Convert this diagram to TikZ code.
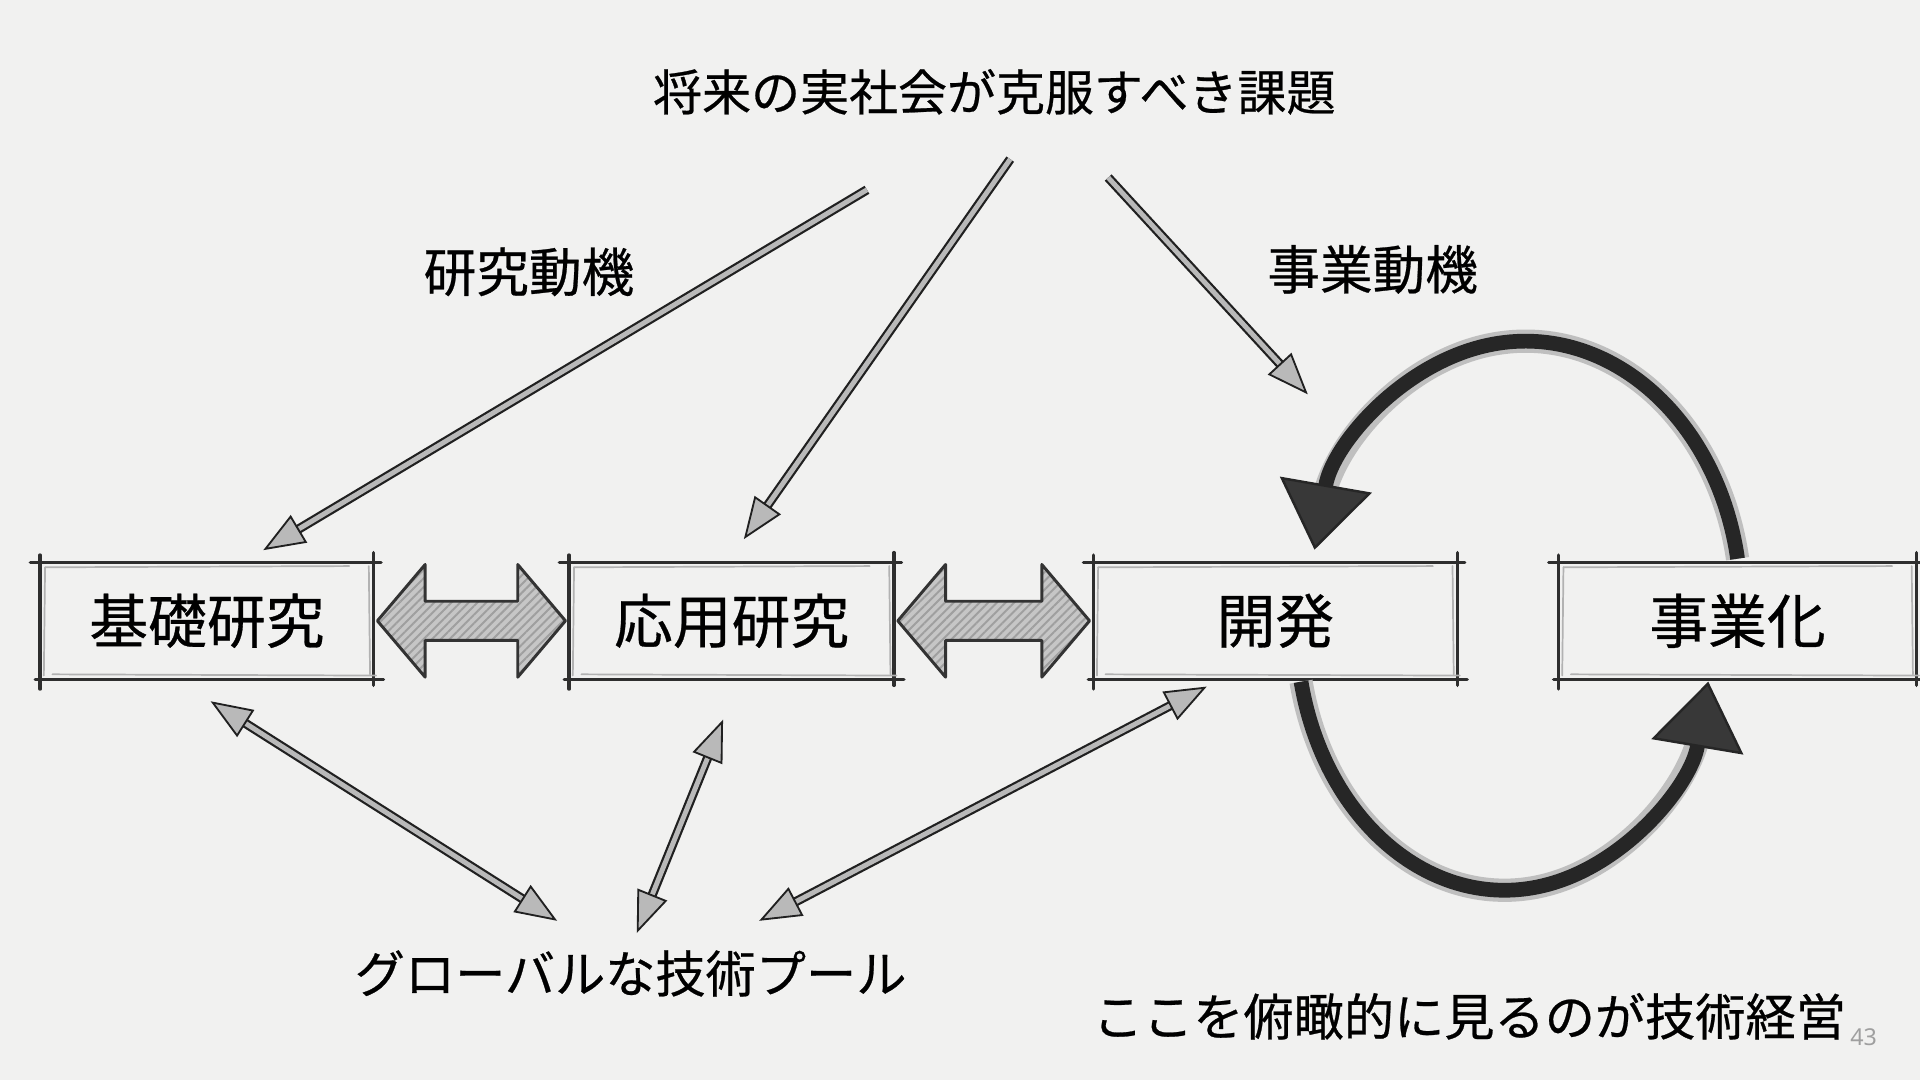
\documentclass[tikz,border=0pt]{standalone}
\usepackage{fontspec}
\newfontfamily\jp{Noto Sans CJK JP}[FakeBold=0.5]
\newfontfamily\numfont{Noto Sans}
\usetikzlibrary{arrows.meta,calc,patterns.meta}
\definecolor{bg}{RGB}{241,241,240}
\tikzset{
  skl/.style={draw=black!82,line width=2.8pt,line cap=round},
  skl2/.style={draw=gray!60,line width=1.4pt,line cap=round},
  boxnode/.style={inner sep=0pt,minimum height=95pt,font=\jp\fontsize{48}{50}\selectfont},
  lbl/.style={inner sep=0pt,font=\jp\fontsize{41}{44}\selectfont},
  blk/.style={draw=black!80,line width=2.4pt,line join=round,preaction={fill=gray!45},
    pattern={Lines[angle=45,distance=5pt,line width=1.6pt]},pattern color=gray!75},
  thin/.style={draw=gray!25!black,line width=1.8pt,double=gray!55,double distance=4pt,
    -{Triangle[length=34pt,width=26pt,fill=gray!55,line width=1.5pt]}},
  thinboth/.style={draw=gray!25!black,line width=1.8pt,double=gray!55,double distance=4pt,
    {Triangle[length=34pt,width=26pt,fill=gray!55,line width=1.5pt]}-{Triangle[length=34pt,width=26pt,fill=gray!55,line width=1.5pt]}},
  loopback/.style={draw=gray!50,line width=19pt,shorten >=40pt},
  loopfront/.style={draw=black!85,line width=12pt,
    -{Triangle[length=54pt,width=76pt,fill=black!78,line width=2pt]}},
}
\newcommand\skbox[1]{%
  \draw[skl] ([xshift=-8pt]#1.north west) -- ([xshift=6pt]#1.north east);
  \draw[skl] ([xshift=-4pt]#1.south west) -- ([xshift=8pt]#1.south east);
  \draw[skl] ([yshift=6pt]#1.north west) -- ([yshift=-8pt]#1.south west);
  \draw[skl] ([yshift=8pt]#1.north east) -- ([yshift=-5pt]#1.south east);
  \draw[skl2] ([xshift=4pt,yshift=-4pt]#1.north west) -- ([xshift=-20pt,yshift=-3pt]#1.north east);
  \draw[skl2] ([xshift=10pt,yshift=4pt]#1.south west) -- ([xshift=2pt,yshift=3pt]#1.south east);
  \draw[skl2] ([xshift=4pt,yshift=-4pt]#1.north west) -- ([xshift=3pt,yshift=3pt]#1.south west);
  \draw[skl2] ([xshift=-4pt,yshift=-3pt]#1.north east) -- ([xshift=-3pt,yshift=4pt]#1.south east);
}
\newcommand\blockarr[2]{%
  \draw[blk] let \p1=(#1.east), \p2=(#2.west) in
    (\x1+3pt,\y1) -- (\x1+42pt,\y1+46pt) -- (\x1+42pt,\y1+16pt) -- (\x2-42pt,\y1+16pt)
    -- (\x2-42pt,\y1+46pt) -- (\x2-3pt,\y1) -- (\x2-42pt,\y1-46pt) -- (\x2-42pt,\y1-16pt)
    -- (\x1+42pt,\y1-16pt) -- (\x1+42pt,\y1-46pt) -- cycle;
}
\begin{document}
\begin{tikzpicture}[x=1pt,y=-1pt]
\useasboundingbox (0,0) rectangle (1568,882);
\fill[bg] (0,0) rectangle (1568,882);

% texts
\node[lbl,font=\jp\fontsize{40}{44}\selectfont] (title) at (812,75) {将来の実社会が克服すべき課題};
\node[lbl,font=\jp\fontsize{43}{46}\selectfont] (rm) at (432,222) {研究動機};
\node[lbl,font=\jp\fontsize{43}{46}\selectfont] (bm) at (1121,220) {事業動機};
\node[lbl] (pool) at (515,795) {グローバルな技術プール};
\node[lbl] (mgmt) at (1200,830) {ここを俯瞰的に見るのが技術経営};
\node[inner sep=0pt,text=gray!75,font=\numfont\fontsize{19}{20}\selectfont] (pg) at (1522,847) {43};

% boxes
\node[boxnode,minimum width=272pt] (b1) at (169,507) {基礎研究};
\node[boxnode,minimum width=265pt] (b2) at (597.5,507) {応用研究};
\node[boxnode,minimum width=297pt] (b3) at (1041.5,507) {開発};
\node[boxnode,minimum width=292pt] (b4) at (1419,507) {事業化};
\skbox{b1}\skbox{b2}\skbox{b3}\skbox{b4}

% block double arrows
\blockarr{b1}{b2}
\blockarr{b2}{b3}

% arrows from the title
\coordinate (t1s) at (708,155);
\coordinate (t2s) at (825,130);
\coordinate (t3s) at (905,145);
\coordinate (t3e) at (1068,322);
\draw[thin] (t1s) -- ([xshift=46pt,yshift=10pt]b1.north);
\draw[thin] (t2s) -- ([xshift=10pt,yshift=19pt]b2.north);
\draw[thin] (t3s) -- (t3e);

% arrows to the pool
\draw[thinboth] ([xshift=3pt,yshift=-18pt]b1.south) -- ([xshift=-60pt,yshift=43pt]pool.center);
\draw[thinboth] ([xshift=-7pt,yshift=-33pt]b2.south) -- ([xshift=5pt,yshift=33pt]pool.center);
\draw[thinboth] ([xshift=-56pt,yshift=-6pt]b3.south) -- ([xshift=105pt,yshift=43pt]pool.center);

% loop
\draw[loopback] ([yshift=3pt]b4.north) arc[start angle=10,end angle=168,x radius=176pt,y radius=215pt];
\draw[loopfront] ([yshift=3pt]b4.north) arc[start angle=10,end angle=168,x radius=176pt,y radius=215pt];
\draw[loopback] ([xshift=21pt,yshift=-2pt]b3.south) arc[start angle=192,end angle=348,x radius=170pt,y radius=215pt];
\draw[loopfront] ([xshift=21pt,yshift=-2pt]b3.south) arc[start angle=192,end angle=348,x radius=170pt,y radius=215pt];
\end{tikzpicture}
\end{document}
